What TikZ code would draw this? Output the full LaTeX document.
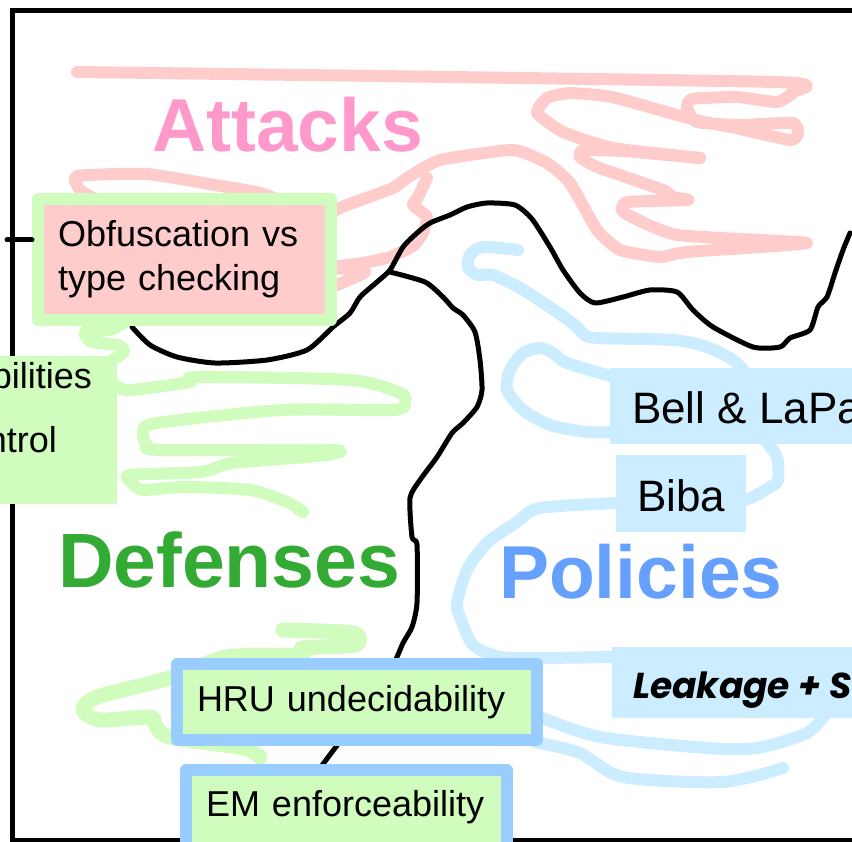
\documentclass[tikz,border=0pt]{standalone}
\usepackage{fontspec}
\setmainfont{Liberation Sans}
\newfontfamily\leakfont{Poppins}
\usetikzlibrary{positioning}

\definecolor{scrpink}{RGB}{255,204,204}
\definecolor{scrgreen}{RGB}{208,252,190}
\definecolor{scrblue}{RGB}{204,236,255}
\definecolor{edgeblue}{RGB}{153,204,255}
\definecolor{attpink}{RGB}{255,153,204}
\definecolor{defgreen}{RGB}{51,170,51}
\definecolor{polblue}{RGB}{102,160,255}

\begin{document}
\begin{tikzpicture}[x=1pt,y=-1pt,line cap=round,line join=round]
  \tikzstyle{scribble}=[line width=12pt]
  \tikzstyle{border}=[line width=5pt]
  \tikzstyle{title}=[anchor=text,inner sep=0pt,font=\fontsize{75}{90}\selectfont\bfseries]
  \tikzstyle{fact}=[anchor=text,inner sep=0pt,font=\fontsize{36}{44}\selectfont]
  \tikzstyle{model}=[anchor=text,inner ysep=0pt,fill=scrblue,font=\fontsize{44}{52}\selectfont]
  \tikzstyle{proof}=[fact,draw=edgeblue,line width=12pt,fill=scrgreen,inner xsep=20pt,align=left]

  \useasboundingbox (0,0) rectangle (852,842);
  \draw[border,line cap=butt,line join=miter] (12,11) rectangle (900,840);

  % attacks
  \draw[scribble,scrpink] plot[smooth,tension=0.3] coordinates {(77,72) (775,82) (793,92) (777,102) (737,97) (692,99) (687,108) (697,122) (740,125) (793,123) (798,134) (790,140) (740,129) (700,121) (677,115) (612,97) (570,93) (547,98) (537,113) (563,132) (613,148) (700,158)};
  \draw[scribble,scrpink] plot[smooth,tension=0.3] coordinates {(700,158) (623,151) (583,150) (580,157) (597,167) (663,190) (673,197) (688,200) (627,202) (622,210) (630,216) (677,235) (807,243) (687,252) (660,257) (620,250) (597,230) (570,183) (547,163) (513,150) (440,160) (407,178) (393,188) (347,205) (320,214) (260,193) (215,185) (147,174) (77,176) (80,190) (97,200)};
  \draw[scribble,scrpink] plot[smooth,tension=0.3] coordinates {(427,178) (418,197) (413,205) (427,217) (423,233) (413,246) (390,257) (363,263) (330,267)};
  \draw[scribble,scrpink] plot[smooth,tension=0.3] coordinates {(335,268) (365,272) (335,286)};

  % defenses
  \draw[scribble,scrgreen] plot[smooth,tension=0.45] coordinates {(125,322) (110,330) (85,332) (92,342) (118,345) (124,352) (112,360)};
  \draw[scribble,scrgreen] plot[smooth,tension=0.45] coordinates {(110,380) (127,390) (190,382) (197,377) (350,380) (400,393) (405,402) (393,410) (283,410) (157,423) (143,433) (147,445) (160,450) (330,450) (332,454) (307,457) (233,463) (200,472) (130,475) (132,483) (143,490) (183,487) (250,490) (287,502) (303,512)};
  \draw[scribble,scrgreen,line width=15pt] plot[smooth,tension=0.45] coordinates {(283,630) (353,633) (355,645) (303,648) (300,655) (227,657) (170,678) (97,697) (83,710) (100,720) (150,717) (155,725) (170,737) (243,748) (260,757)};

  % policies
  \draw[scribble,scrblue] plot[smooth,tension=0.45] coordinates {(518,250) (483,247) (470,255) (468,267) (477,275) (493,275) (520,288) (557,312) (577,327) (583,334) (597,338) (673,340) (707,347) (733,360) (745,372)};
  \draw[scribble,scrblue] plot[smooth,tension=0.45] coordinates {(614,377) (567,363) (553,353) (540,348) (523,353) (510,370) (507,390) (523,410) (550,425) (587,432) (614,432)};
  \draw[scribble,scrblue] plot[smooth,tension=0.45] coordinates {(765,440) (777,457) (778,480) (770,487) (753,497) (740,502)};
  \draw[scribble,scrblue] plot[smooth,tension=0.45] coordinates {(618,503) (540,508) (517,522) (487,543) (467,570) (457,603) (460,617) (473,645) (500,657) (540,658) (615,657)};
  \draw[scribble,scrblue] plot[smooth,tension=0.45] coordinates {(827,712) (807,733) (757,748) (707,748) (600,737) (540,717)};
  \draw[scribble,scrblue] plot[smooth,tension=0.45] coordinates {(535,742) (580,753) (623,777) (723,782) (783,768)};

  % split
  \draw[border] plot[smooth,tension=0.4] coordinates {(132,327) (150,345) (177,357) (215,363) (267,360) (307,350) (333,327) (350,313) (360,297) (377,282) (390,270) (403,247) (417,233) (430,223) (450,215) (467,207) (487,203) (515,205) (532,219) (550,247) (563,270) (580,293) (595,303) (623,297) (650,290) (677,292) (693,310) (713,327) (753,347) (780,347) (790,338) (810,330) (818,307) (827,297) (835,273) (843,250) (850,233)};
  \draw[border] plot[smooth,tension=0.4] coordinates {(390,272) (425,282) (443,297) (453,308) (463,315) (475,332) (480,360) (482,390) (477,407) (463,423) (452,433) (437,457) (420,480) (410,498) (412,537) (417,545) (417,603) (412,627) (403,643) (395,662)};
  \draw[border] (338,744) -- (320,768);

  \node[fact,draw=scrgreen,line width=12pt,fill=scrpink,anchor=center,align=left,text width=253pt,inner xsep=20pt,minimum width=293pt,minimum height=121pt] (obf) at (184.5,259.5) {Obfuscation vs\\type checking};
  \coordinate (tick) at (7,240);
  \draw[border] (tick) -- (tick -| obf.west);

  \node[fill=scrgreen,anchor=north east,inner sep=0pt,minimum width=150pt,minimum height=148pt] (capbox) at (117,356) {};
  \node[fact,anchor=base east] (capab) at (92,389) {bilities};
  \node[fact,anchor=base east] (ctrl) at (57,452) {ntrol};

  \node[model,inner xsep=22pt,text height=56pt,text depth=20pt] (bell) at (632,424) {Bell \& LaPa};
  \node[model,inner xsep=21pt,text height=56pt,text depth=21pt] (biba) at (637,511) {Biba};
  \node[anchor=text,fill=scrblue,inner xsep=21pt,inner ysep=0pt,text height=51pt,text depth=20pt,font=\leakfont\bfseries\itshape\fontsize{36}{44}\selectfont] (leak) at (633,698) {Leakage + S};

  \node[proof,text width=320pt,text height=47pt,text depth=29pt] (hru) at (197,711) {HRU undecidability};
  \node[proof,text width=281pt,text height=46pt,text depth=36pt] (em) at (206,816) {EM enforceability};

  \node[title,text=attpink] (attacks) at (152,152) {Attacks};
  \node[title,text=defgreen,font=\fontsize{77}{90}\selectfont\bfseries] (defenses) at (58,587) {Defenses};
  \node[title,text=polblue] (policies) at (499,598) {Policies};
\end{tikzpicture}
\end{document}
